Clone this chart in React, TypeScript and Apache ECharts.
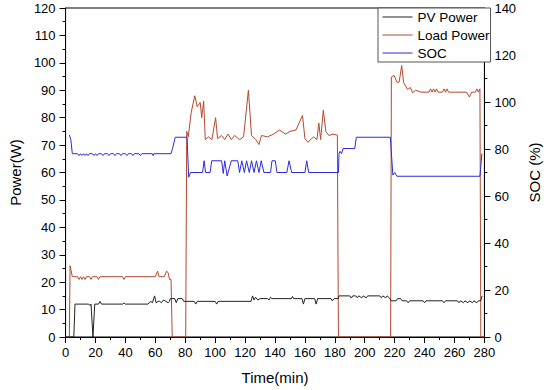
import React, { useEffect, useRef } from "react";
import * as echarts from "echarts";

// [time (min), power (W)]
const pvPower: [number, number][] = [
  [0, 0], [5.5, 0], [6.3, 12], [15.5, 12], [16.3, 11.5], [17, 12], [18.3, 0], [19.5, 12],
  [22, 12], [23, 13], [24, 12], [38, 12], [39, 12.4], [40, 12], [55, 12], [57, 13],
  [58, 12.5], [59.5, 15], [60.5, 12.5], [62, 13], [63, 13], [64, 12.5], [65.5, 13.5],
  [67, 13], [68.5, 12.5], [69.5, 13], [70, 14], [73, 14], [74, 12.5], [75, 14], [78, 14],
  [79, 13], [86, 13], [87, 12], [88, 13], [100, 13], [101, 12], [102, 13], [124, 13],
  [125, 15], [126, 13.5], [127, 14.5], [128.5, 13.5], [130, 14], [135, 14], [136, 13.5],
  [137, 14.5], [138, 14], [151, 14], [151.7, 14.8], [152.5, 14], [158, 14], [159, 12],
  [160, 14], [166.5, 14], [167.5, 12], [168.5, 14], [177.5, 14], [178.3, 13.2], [179.5, 14],
  [182.3, 14], [182.8, 15], [190, 15], [191, 14.2], [192, 15], [194, 15], [195, 14.3],
  [196, 15], [198, 14.3], [199, 15], [201, 14.3], [202, 15], [210, 15], [211, 14.3],
  [212, 15], [214, 14.3], [215, 15], [216.5, 14.3], [217.6, 13.2], [221, 13.2], [222, 14],
  [224, 14], [225, 13.2], [228, 13.2], [229, 12.5], [230, 13.2], [239, 13.2], [240, 12.5],
  [241, 13.2], [252, 13.2], [253, 12.5], [254, 13.2], [262, 13.2], [263, 12.5], [264, 13.2],
  [266, 12.5], [267, 13.2], [269, 12.5], [270, 13.2], [272, 12.5], [273, 13.2], [275, 12.5],
  [276, 13.2], [277.5, 13.2], [278.5, 15],
];

// [time (min), power (W)]
const loadPower: [number, number][] = [
  [0, 0], [2.5, 0], [3, 26], [4.5, 22], [8, 22], [9, 21], [10, 22], [11, 21], [12, 22],
  [13, 21], [14, 22], [16, 22], [17, 21], [18, 22], [21, 22], [22, 21], [23, 22],
  [38, 22], [39, 21], [40, 22], [60, 22], [61.5, 24], [62.5, 22], [66, 22], [67.5, 24],
  [68.5, 23.5], [69.5, 21], [70.5, 21], [71.3, 0], [80.3, 0], [81, 75], [82, 73],
  [84, 82], [86.4, 88], [88, 84], [90, 85.5], [91, 80], [92.3, 86], [93.4, 72],
  [95.6, 73], [97.8, 72], [100.3, 80], [101.6, 72.4], [104.3, 73.5], [106.4, 72],
  [108.6, 74], [110.8, 72], [113, 73.5], [116.3, 72], [119, 73], [122.2, 90],
  [124.3, 73.5], [127.2, 72], [129.3, 70.2], [131, 73.5], [135, 73], [139, 74],
  [143, 75.5], [147, 74], [150, 75], [154, 75.5], [158.4, 80.8], [160, 72.4], [162, 71],
  [165.8, 73], [168, 72], [169.3, 78], [170.5, 72], [172.3, 82.7], [174, 75], [176, 73.5],
  [178.8, 74], [181.7, 73.6], [182.4, 0], [217.3, 0], [217.8, 94.8], [219.6, 95.4],
  [221.7, 92.8], [223, 93], [224.7, 99], [226, 92.8], [228.6, 90.3], [230.5, 91],
  [232, 89.1], [234, 90], [237.6, 89.3], [243, 89.3], [244, 90.5], [245, 89.3],
  [246, 90.5], [247, 89.3], [248, 90.5], [249, 89.3], [252, 89.3], [253, 90.5],
  [254, 89.3], [255, 90.5], [256, 89.3], [268, 89.3], [270, 87.5], [271.5, 89.3],
  [274, 89.3], [275, 90.5], [276, 89.3], [277, 90.5], [277.6, 0], [280, 0],
];

// [time (min), SOC (%)]
const soc: [number, number][] = [
  [2.5, 86], [3.5, 84], [4.5, 78], [8, 78], [9, 77.2], [10, 78], [11, 77.2], [12, 78],
  [13, 77.2], [14, 78], [15, 77.2], [16, 78], [18, 78], [19, 77.2], [20, 78], [21, 77.2],
  [22, 78], [24, 78], [25, 77.2], [26, 78], [28, 78], [29, 77.2], [30, 78], [32, 78],
  [33, 77.2], [34, 78], [36, 78], [37, 77.2], [38, 78], [40, 78], [41, 77.2], [42, 78],
  [44, 78], [45, 77.2], [46, 78], [49, 78], [50, 77.2], [51, 78], [58, 78], [58.5, 77.2],
  [59, 78], [70.5, 78], [71.5, 80.2], [73.3, 85], [81.2, 85], [82.3, 68], [83.5, 70],
  [91.6, 70], [92.6, 75], [93.6, 70], [96.6, 70], [97.7, 75], [104.3, 75], [105.4, 69.6],
  [106.4, 75], [108, 68.5], [110.8, 75], [115.1, 75], [116.3, 70], [117.8, 75],
  [119.5, 70], [121, 75], [122.8, 70], [124.3, 75], [126, 70], [127.6, 75], [129.3, 70],
  [130.8, 75], [132.6, 70], [137, 70], [138, 75], [140.2, 75], [141.3, 70], [147.9, 70],
  [149.4, 75], [151.1, 70], [160, 70], [161.2, 75], [162.5, 70], [182.4, 70], [182.8, 78],
  [183.5, 79], [184.5, 78], [185.5, 80.2], [193.3, 80.2], [194.4, 85], [217.1, 85],
  [218.8, 68.9], [220, 70], [221.5, 68.4], [277, 68.4], [278.3, 78],
];

const xTicks = { min: 0, max: 280, interval: 20 };
const leftTicks = { min: 0, max: 120, interval: 10 };
const rightTicks = { min: 0, max: 140, interval: 20 };

const FONT = "Liberation Sans, Arial, sans-serif";

export default function App() {
  const ref = useRef<HTMLDivElement>(null);
  useEffect(() => {
    if (!ref.current) return;
    const chart = echarts.init(ref.current, null, { renderer: "svg" });
    const axisCommon = {
      axisLine: { show: true, lineStyle: { color: "#000", width: 1 } },
      axisTick: { show: true, inside: false, length: 6, lineStyle: { color: "#000" } },
      minorTick: { show: true, splitNumber: 2, length: 3, lineStyle: { color: "#000" } },
      splitLine: { show: false },
      axisLabel: { color: "#000", fontFamily: FONT, fontSize: 13 },
      nameTextStyle: { color: "#000", fontFamily: FONT, fontSize: 15 },
    };
    chart.setOption({
      animation: false,
      backgroundColor: "#fff",
      grid: { left: 64, right: 59, top: 8, bottom: 51, show: true, borderColor: "#000", borderWidth: 1 },
      legend: {
        left: 378,
        top: 8,
        orient: "vertical",
        itemWidth: 30,
        itemHeight: 13,
        itemGap: 4,
        padding: [2, 1, 2, 4],
        borderColor: "#555",
        borderWidth: 1,
        backgroundColor: "#fff",
        itemStyle: { opacity: 0 },
        lineStyle: { width: 1 },
        textStyle: { color: "#000", fontFamily: FONT, fontSize: 13.5 },
        data: ["PV Power", "Load Power", "SOC"],
      },
      xAxis: {
        type: "value",
        ...xTicks,
        ...axisCommon,
        axisLabel: { ...axisCommon.axisLabel, margin: 9 },
        name: "Time(min)",
        nameLocation: "middle",
        nameGap: 33,
      },
      yAxis: [
        {
          type: "value",
          ...leftTicks,
          ...axisCommon,
          axisLabel: { ...axisCommon.axisLabel, margin: 10 },
          name: "Power(W)",
          nameLocation: "middle",
          nameGap: 39,
          nameRotate: 90,
        },
        {
          type: "value",
          position: "right",
          ...rightTicks,
          ...axisCommon,
          axisLabel: { ...axisCommon.axisLabel, margin: 10 },
          name: "SOC (%)",
          nameLocation: "middle",
          nameGap: 38,
          nameRotate: 90,
        },
      ],
      series: [
        {
          name: "PV Power",
          type: "line",
          data: pvPower,
          yAxisIndex: 0,
          symbol: "none",
          lineStyle: { color: "#222", width: 1 },
          itemStyle: { color: "#222" },
          z: 3,
        },
        {
          name: "Load Power",
          type: "line",
          data: loadPower,
          yAxisIndex: 0,
          symbol: "none",
          lineStyle: { color: "#b5482d", width: 1 },
          itemStyle: { color: "#b5482d" },
          z: 2,
        },
        {
          name: "SOC",
          type: "line",
          data: soc,
          yAxisIndex: 1,
          symbol: "none",
          lineStyle: { color: "#2b2be0", width: 1 },
          itemStyle: { color: "#2b2be0" },
          z: 4,
        },
      ],
    });
    return () => chart.dispose();
  }, []);
  return <div ref={ref} style={{ width: 550, height: 390, position: "absolute", left: 0, top: 0 }} />;
}
